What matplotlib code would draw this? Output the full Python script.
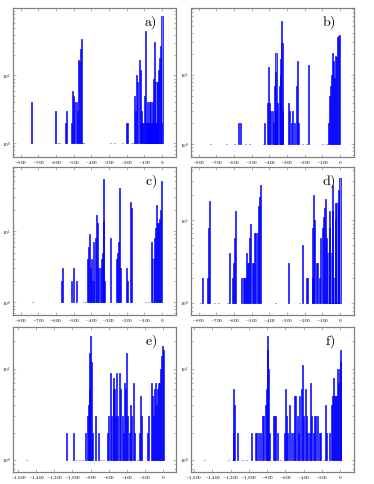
import numpy as np
import matplotlib
matplotlib.use("Agg")
import matplotlib.pyplot as plt
from matplotlib.ticker import FixedLocator, LogLocator, NullFormatter

plt.rcParams["mathtext.fontset"] = "cm"
plt.rcParams["font.family"] = "DejaVu Serif"

# histogram bins (bin position, count)
a_x = [-738, -600, -592, -581, -547, -539, -514, -505, -501, -494, -486, -480, -473, -467, -461, -456, -450, -444,
       -289, -267, -221, -199, -193, -170, -161, -155, -149, -144, -136, -129, -123, -118, -114, -110, -106, -100,
       -93, -90, -85, -80, -76, -72, -68, -63, -59, -55, -51, -47, -42, -38, -34, -30, -27, -23, -19, -13, -8, -4, 0]
a_n = [4, 3, 1, 1, 2, 3, 2, 6, 5, 4, 4, 3, 17, 16, 25, 34, 1, 1,
       1, 1, 1, 2, 2, 1, 1, 5, 3, 10, 8, 17, 12, 2, 3, 2, 2, 5,
       45, 2, 2, 4, 2, 4, 2, 4, 2, 4, 2, 9, 31, 2, 8, 2, 8, 2, 12, 18, 27, 2, 75]

b_x = [-734, -643, -595, -576, -563, -535, -510, -434, -427, -411, -406, -400, -395,
       -383, -377, -370, -366, -362, -358, -351, -343, -339, -334, -330, -328, -324,
       -292, -286, -273, -267, -258, -248, -241, -235, -212, -191, -180,
       -98, -79, -66, -59, -53, -47, -42, -36, -30, -25, -19, -13, -7, -2]
b_n = [1, 1, 1, 2, 2, 1, 1, 1, 2, 4, 13, 4, 3,
       3, 2, 7, 11, 21, 3, 4, 7, 10, 17, 59, 29, 3,
       4, 3, 2, 3, 2, 7, 16, 2, 1, 1, 14,
       1, 1, 2, 5, 7, 10, 21, 16, 9, 19, 18, 35, 36, 38]

c_x = [-734, -569, -562, -511, -501, -486, -444, -433,
       -422, -416, -410, -405, -397, -390, -386, -378, -373, -367, -357, -350, -344, -339, -333, -329, -323,
       -289, -259, -253, -246, -240, -235, -199, -193, -180, -174, -95, -76,
       -57, -51, -44, -38, -32, -25, -19, -13, -8, -2]
c_n = [1, 2, 3, 2, 3, 2, 1, 1,
       4, 6, 9, 3, 4, 2, 7, 8, 17, 13, 3, 3, 4, 5, 14, 55, 2,
       8, 4, 5, 7, 41, 3, 3, 2, 26, 21, 1, 1,
       7, 4, 8, 11, 23, 13, 13, 15, 20, 50]

d_x = [-791, -775, -749, -745, -739, -711, -686, -637, -627, -609, -601, -597, -591,
       -559, -544, -538, -533, -527, -521, -516, -510, -504, -497, -489, -481, -476, -468, -463, -457, -451,
       -364, -292, -231, -210, -191, -184,
       -157, -153, -148, -144, -133, -125, -117, -108, -100, -93, -87, -81, -74, -68, -62, -57, -51,
       -45, -40, -34, -28, -23, -17, -11, -6, 0]
d_n = [1, 2, 2, 8, 17, 1, 1, 1, 4, 2, 3, 6, 13,
       2, 2, 2, 2, 4, 3, 3, 6, 9, 3, 3, 7, 7, 7, 15, 19, 27,
       1, 3, 1, 5, 2, 2,
       2, 8, 20, 10, 3, 3, 2, 6, 8, 11, 14, 18, 6, 4, 13, 8, 4,
       27, 13, 2, 16, 10, 16, 16, 23, 32]

e_x = [-1505, -1064, -984, -954, -925, -892, -855, -837, -826, -815, -807, -800, -793, -782, -745,
       -712, -690, -653, -609, -598, -580, -565, -550, -543, -532, -521, -510, -499, -484, -470, -451,
       -440, -426, -415, -404, -389, -374, -360, -345, -330, -316, -286, -257, -250, -239,
       -176, -158, -132, -121, -110, -95, -84, -73, -59, -48, -37, -26, -15, -7, 0]
e_n = [1, 2, 2, 1, 1, 1, 2, 3, 4, 6, 15, 23, 12, 2, 3,
       2, 1, 1, 2, 3, 9, 3, 6, 8, 6, 3, 9, 3, 9, 6, 3,
       2, 7, 6, 15, 3, 2, 4, 3, 7, 2, 1, 2, 5, 3,
       2, 3, 7, 5, 3, 6, 7, 4, 6, 7, 7, 10, 14, 18, 16]

f_x = [-1484, -1218, -1182, -1171, -1164, -1156, -1127, -1073, -1025,
       -974, -931, -916, -891, -873, -851, -836, -818, -807, -800, -793, -785, -771, -734, -720, -705, -691,
       -654, -611, -600, -589, -575, -560, -538, -516, -502, -487, -473, -458, -444, -429, -415, -400,
       -385, -371, -356, -342, -327, -313, -298, -284, -269, -255, -233, -218, -182, -164, -153,
       -116, -102, -91, -80, -69, -58, -47, -36, -25, -15, -4, 4]
f_n = [1, 1, 1, 2, 6, 4, 2, 1, 1,
       2, 2, 2, 2, 2, 3, 3, 4, 6, 16, 23, 10, 2, 3, 3, 3, 2,
       1, 2, 6, 3, 2, 4, 2, 2, 5, 5, 3, 2, 5, 6, 11, 3,
       6, 3, 2, 2, 7, 3, 2, 3, 3, 3, 2, 2, 1, 4, 2,
       2, 4, 5, 8, 5, 5, 5, 10, 7, 10, 16, 12]

labels = ["a)", "b)", "c)", "d)", "e)", "f)"]
xs = [a_x, b_x, c_x, d_x, e_x, f_x]
ns = [a_n, b_n, c_n, d_n, e_n, f_n]
xlims = [(-842, 80), (-842, 80), (-842, 80), (-842, 80), (-1655, 143), (-1630, 150)]
ylims = [(0.63, 100), (0.66, 93), (0.66, 80), (0.71, 44), (0.74, 29), (0.74, 29)]
xticks_short = list(range(-800, 1, 100))
xticks_long = list(range(-1600, 1, 200))

fig = plt.figure(figsize=(3.74, 4.84), dpi=100)
lefts = [0.035, 0.511]
rows = [(0.676, 0.308), (0.349, 0.306), (0.025, 0.300)]


def fmt(v):
    if v == 0:
        return r"$0$"
    s = f"{abs(v):,}".replace(",", "{,}")
    return r"$-" + s + "$"


for i in range(6):
    r, c = divmod(i, 2)
    ax = fig.add_axes([lefts[c], rows[r][0], 0.436, rows[r][1]])
    x = np.array(xs[i])
    n = np.array(ns[i])
    w = 6 if r < 2 else 11
    ax.bar(x, n - 1, bottom=1, width=w, color=(0, 0, 1, 0.55),
           edgecolor="blue", linewidth=0.5, align="center")
    ax.set_yscale("log")
    ax.set_xlim(*xlims[i])
    ax.set_ylim(*ylims[i])
    ticks = xticks_short if r < 2 else xticks_long
    ax.xaxis.set_major_locator(FixedLocator(ticks))
    ax.set_xticklabels([fmt(t) for t in ticks])
    ax.yaxis.set_major_locator(FixedLocator([1, 10]))
    ax.set_yticklabels([r"$10^{0}$", r"$10^{1}$"])
    ax.yaxis.set_minor_locator(LogLocator(base=10, subs=np.arange(2, 10)))
    ax.yaxis.set_minor_formatter(NullFormatter())
    ax.tick_params(axis="both", which="both", direction="in", top=True, right=True,
                   labelsize=3.6, pad=1.5, color="#808080", width=0.4)
    ax.tick_params(axis="both", which="major", length=2.5)
    ax.tick_params(axis="y", which="minor", length=1.5)
    for sp in ax.spines.values():
        sp.set_color("#808080")
        sp.set_linewidth(0.9)
    ax.text(0.885, 0.90, r"$\mathrm{" + labels[i] + "}$", transform=ax.transAxes,
            ha="right", va="center", fontsize=10)

fig.savefig("out.png", dpi=100)
